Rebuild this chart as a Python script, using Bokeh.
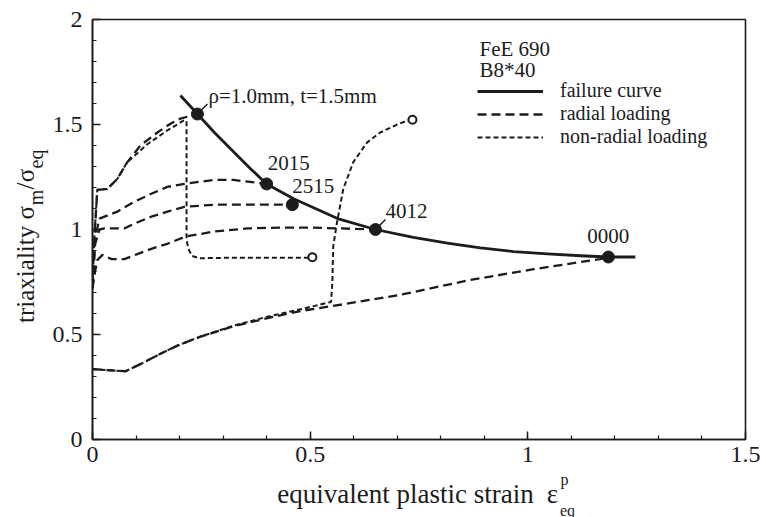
import numpy as np
from bokeh.plotting import figure
from bokeh.models import Range1d, FixedTicker, Label, Legend, LegendItem, LinearAxis
from bokeh.embed import file_html
from bokeh.resources import INLINE

# ---------------- data ----------------
fail_x = [0.202, 0.241, 0.280, 0.317, 0.360, 0.400, 0.462, 0.563, 0.650, 0.737, 0.815, 0.891, 0.967, 1.045, 1.121, 1.185, 1.247]
fail_y = [1.638, 1.550, 1.462, 1.385, 1.295, 1.217, 1.146, 1.052, 1.000, 0.962, 0.935, 0.912, 0.895, 0.884, 0.875, 0.869, 0.869]

rad_rho_x = [0.0, 0.004, 0.011, 0.034, 0.057, 0.080, 0.110, 0.149, 0.180, 0.202, 0.241]
rad_rho_y = [0.72, 0.95, 1.189, 1.193, 1.241, 1.321, 1.400, 1.462, 1.505, 1.528, 1.550]

rad_2015_x = [0.0, 0.006, 0.016, 0.057, 0.096, 0.135, 0.172, 0.211, 0.278, 0.324, 0.400]
rad_2015_y = [0.72, 0.96, 1.052, 1.085, 1.132, 1.170, 1.203, 1.217, 1.236, 1.236, 1.217]

rad_2515_x = [0.0, 0.006, 0.016, 0.028, 0.073, 0.096, 0.135, 0.172, 0.211, 0.280, 0.356, 0.459]
rad_2515_y = [0.72, 0.93, 1.000, 1.005, 1.005, 1.028, 1.061, 1.085, 1.108, 1.118, 1.118, 1.118]

rad_4012_x = [0.0, 0.006, 0.011, 0.023, 0.044, 0.073, 0.103, 0.135, 0.172, 0.213, 0.278, 0.356, 0.431, 0.507, 0.650]
rad_4012_y = [0.72, 0.80, 0.854, 0.879, 0.859, 0.859, 0.883, 0.908, 0.932, 0.966, 0.990, 1.005, 1.009, 1.009, 1.000]

rad_0000_x = [0.0, 0.076, 0.110, 0.156, 0.195, 0.248, 0.324, 0.402, 0.478, 0.553, 0.707, 0.861, 1.013, 1.166, 1.185]
rad_0000_y = [0.335, 0.325, 0.359, 0.408, 0.447, 0.490, 0.539, 0.578, 0.612, 0.636, 0.689, 0.757, 0.811, 0.859, 0.869]

nonrad_a_x = [0.0, 0.004, 0.011, 0.034, 0.057, 0.080, 0.126, 0.172, 0.209, 0.216, 0.216, 0.220, 0.228, 0.245, 0.300, 0.400, 0.498]
nonrad_a_y = [0.72, 0.95, 1.189, 1.193, 1.241, 1.321, 1.406, 1.472, 1.518, 1.518, 0.951, 0.910, 0.875, 0.863, 0.865, 0.866, 0.866]

nonrad_b_x = [0.0, 0.076, 0.110, 0.156, 0.195, 0.248, 0.324, 0.402, 0.478, 0.548, 0.551, 0.553, 0.562, 0.576, 0.599, 0.631, 0.661, 0.700, 0.725]
nonrad_b_y = [0.335, 0.325, 0.359, 0.408, 0.447, 0.490, 0.542, 0.585, 0.620, 0.655, 0.750, 0.920, 1.038, 1.193, 1.321, 1.415, 1.462, 1.500, 1.520]

mk_x = [0.241, 0.400, 0.459, 0.650, 1.185]
mk_y = [1.550, 1.217, 1.118, 1.000, 0.869]
mk_labels = ["\u03c1=1.0mm, t=1.5mm", "2015", "2515", "4012", "0000"]

end_x = [0.505, 0.735]
end_y = [0.868, 1.523]

x_ticks = [0, 0.5, 1, 1.5]
x_tick_labels = ["0", "0.5", "1", "1.5"]
y_ticks = [0, 0.5, 1, 1.5, 2]
y_tick_labels = ["0", "0.5", "1", "1.5", "2"]

legend_labels = ["failure curve", "radial loading", "non-radial loading"]
header_lines = ["FeE 690", "B8*40"]

# axis-title pieces (text, centre position along the axis in screen px)
xtitle_main = [("equivalent plastic strain", 405), ("\u03b5", 552)]
xtitle_sup = [("p", 564)]
xtitle_sub = [("eq", 567)]
ytitle_main = [("triaxiality \u03c3", 264), ("/", 185.5), ("\u03c3", 175)]
ytitle_sub = [("m", 197), ("eq", 158.5)]

# ---------------- layout ----------------
FONT = "Liberation Serif"
INK = "#1c1c1c"
L, R, T, B = 92, 21, 19, 78
FW, FH = 653, 420
X0, X1, Y0, Y1 = 0.0, 1.5, 0.0, 2.0


def px2x(px):
    return round(X0 + (px - L) / FW * (X1 - X0), 5)


def px2y(py):
    return round(Y1 - (py - T) / FH * (Y1 - Y0), 5)


def dxp(d):
    return d / FW * (X1 - X0)


def dyp(d):
    return d / FH * (Y1 - Y0)


p = figure(frame_width=FW, frame_height=FH, output_backend="svg", toolbar_location=None,
           x_range=Range1d(X0, X1), y_range=Range1d(Y0, Y1), title=None,
           min_border_left=L, min_border_right=R, min_border_top=T, min_border_bottom=B)
p.background_fill_color = "white"
p.border_fill_color = "white"
p.grid.visible = False
p.outline_line_color = INK
p.outline_line_width = 1.6
p.outline_line_alpha = 1.0

main_x = p.xaxis[0]
main_y = p.yaxis[0]
for ax, ticks, labs, top in ((main_x, x_ticks, x_tick_labels, 1.5),
                             (main_y, y_ticks, y_tick_labels, 2.0)):
    minors = [round(v, 2) for v in np.arange(0, top + 1e-9, 0.1)]
    ax.ticker = FixedTicker(ticks=ticks, minor_ticks=minors)
    ax.major_label_overrides = {t: s for t, s in zip(ticks, labs)}
    ax.major_tick_in = 8
    ax.major_tick_out = 0
    ax.minor_tick_in = 4
    ax.minor_tick_out = 0
    ax.major_tick_line_color = INK
    ax.minor_tick_line_color = INK
    ax.major_tick_line_width = 1.5
    ax.minor_tick_line_width = 1.2
    ax.axis_line_color = INK
    ax.axis_line_width = 1.6
    ax.major_label_text_font = FONT
    ax.major_label_text_font_size = "24px"
    ax.major_label_text_color = INK
    ax.axis_label = None

main_x.major_label_standoff = 7
main_y.major_label_standoff = 10


def title_axis(side, pieces, size, standoff):
    conv = px2x if side == "below" else px2y
    ticks = [conv(c) for _, c in pieces]
    ax = LinearAxis(ticker=FixedTicker(ticks=ticks, minor_ticks=[]),
                    major_label_overrides={t: s for t, (s, _) in zip(ticks, pieces)},
                    major_label_standoff=standoff,
                    major_label_orientation="horizontal" if side == "below" else "parallel",
                    major_label_text_font=FONT, major_label_text_font_size=size,
                    major_label_text_color=INK, axis_line_color=None,
                    major_tick_line_color=None, minor_tick_line_color=None,
                    major_tick_in=0, major_tick_out=0, minor_tick_in=0, minor_tick_out=0)
    p.add_layout(ax, side)
    return ax


# x title: main text, superscript, subscript
title_axis("below", xtitle_main, "27px", 14)
title_axis("below", xtitle_sup, "16px", -41)
title_axis("below", xtitle_sub, "16px", -10)
# y title: main text, subscripts
title_axis("left", ytitle_main, "25px", 10)
title_axis("left", ytitle_sub, "20px", -38)

# ---------------- curves ----------------
r_fail = p.line(fail_x, fail_y, line_color=INK, line_width=2.8, line_join="round")

radial = []
for xs, ys in ((rad_rho_x, rad_rho_y), (rad_2015_x, rad_2015_y), (rad_2515_x, rad_2515_y),
               (rad_4012_x, rad_4012_y), (rad_0000_x, rad_0000_y)):
    radial.append(p.line(xs, ys, line_color=INK, line_width=2.3, line_dash="9 5"))

nonradial = []
for xs, ys in ((nonrad_a_x, nonrad_a_y), (nonrad_b_x, nonrad_b_y)):
    nonradial.append(p.line(xs, ys, line_color=INK, line_width=2.0, line_dash="5 3"))

p.scatter(mk_x, mk_y, size=12, fill_color=INK, line_color=INK)
p.scatter(end_x, end_y, size=8, fill_color="white", line_color=INK, line_width=2)

lead_idx = [0, 3]
p.segment(x0=[mk_x[i] for i in lead_idx], y0=[mk_y[i] for i in lead_idx],
          x1=[mk_x[i] + dxp(10) for i in lead_idx], y1=[mk_y[i] + dyp(10) for i in lead_idx],
          line_color=INK, line_width=1.5)

offs = [(11, 18), (1, 21), (0, 19), (10, 19), (-21, 21)]
for (mx, my, txt), (ox, oy) in zip(zip(mk_x, mk_y, mk_labels), offs):
    p.add_layout(Label(x=mx + dxp(ox), y=my + dyp(oy), text=txt, text_font=FONT,
                       text_font_size="21px", text_color=INK, text_align="left",
                       text_baseline="middle"))

# ---------------- legend ----------------
legend = Legend(items=[LegendItem(label=legend_labels[0], renderers=[r_fail]),
                       LegendItem(label=legend_labels[1], renderers=[radial[0]]),
                       LegendItem(label=legend_labels[2], renderers=[nonradial[0]])],
                location=(385, 291), orientation="vertical", padding=0, margin=0,
                spacing=0, glyph_width=66, glyph_height=20, label_height=20,
                label_standoff=17, label_text_font=FONT, label_text_font_size="20px",
                label_text_color=INK, border_line_alpha=0, background_fill_alpha=0)
p.add_layout(legend)

for i, txt in enumerate(header_lines):
    p.add_layout(Label(x=px2x(479), y=px2y(48 + 21 * i), text=txt, text_font=FONT,
                       text_font_size="21px", text_color=INK, text_align="left",
                       text_baseline="middle"))

open("out.html", "w").write(file_html(p, INLINE))
